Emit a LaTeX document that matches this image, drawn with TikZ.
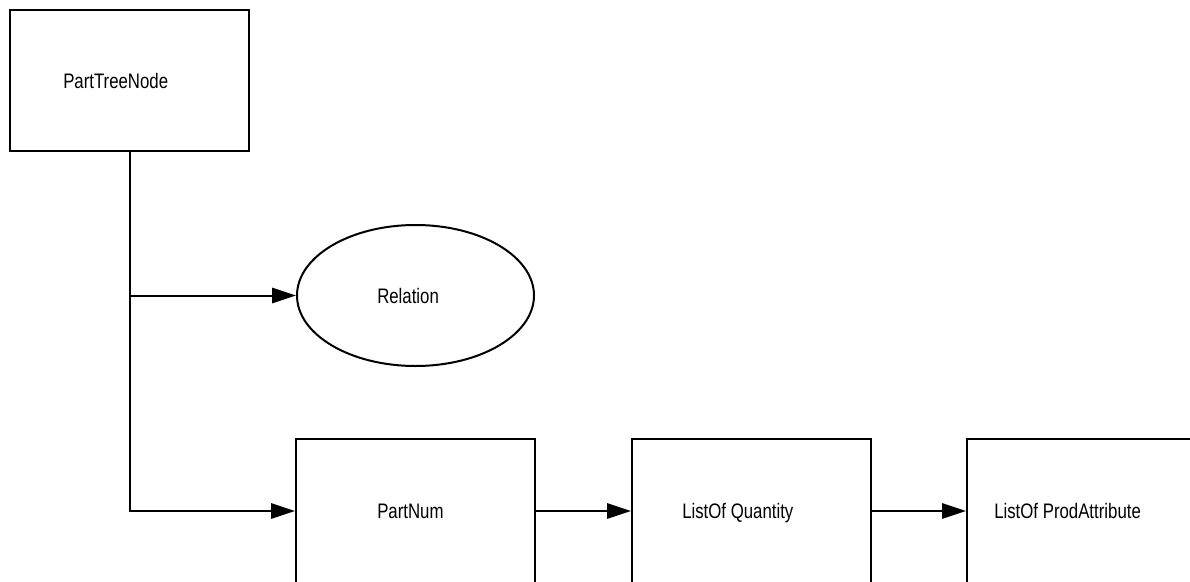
\documentclass[tikz,border=0pt]{standalone}
\usepackage{fontspec}
\setmainfont[FakeStretch=0.8]{Liberation Sans}
\usetikzlibrary{arrows.meta,shapes.geometric}
\begin{document}
\begin{tikzpicture}[
  x=0.75pt, y=-0.75pt,
  box/.style={draw, line width=1.5pt, minimum width=179.25pt, minimum height=105.75pt, inner sep=0pt},
  lowbox/.style={box, minimum height=108pt},
  oval/.style={draw, ellipse, line width=1.5pt, minimum width=177.75pt, minimum height=105.75pt, inner sep=0pt},
  lbl/.style={anchor=base west, inner sep=0pt, font=\fontsize{15.75pt}{18pt}\selectfont},
  link/.style={line width=1.5pt, -{Triangle[length=18pt, width=11.5pt]}}
]
\clip (0,0) rectangle (1190,582);
\node[box] (ptn) at (129.5,80.5) {};
\node[oval] (rel) at (415.5,295.5) {};
\node[lowbox] (pnum) at (415.5,511) {};
\node[lowbox] (loq) at (751.5,511) {};
\node[lowbox] (lpa) at (1086.5,511) {};

\node[lbl] (ptnl) at (63,88) {PartTreeNode};
\node[lbl] (rell) at (377,303) {Relation};
\node[lbl] (pnuml) at (377,518) {PartNum};
\node[lbl] (loql) at (682,518) {ListOf Quantity};
\node[lbl] (lpal) at (994,518) {ListOf ProdAttribute};

\draw[link] (ptn.south) |- (pnum.west);
\draw[link] (ptn.south |- rel.west) -- (rel.west);
\draw[link] (pnum.east) -- (loq.west);
\draw[link] (loq.east) -- (lpa.west);
\end{tikzpicture}
\end{document}
